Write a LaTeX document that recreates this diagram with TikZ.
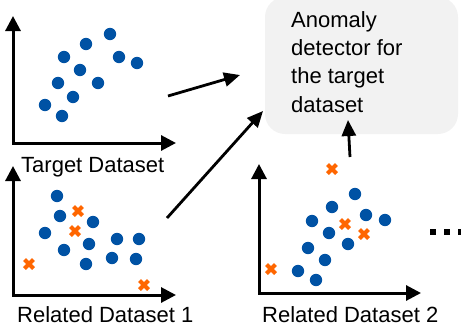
\documentclass[tikz,border=0pt]{standalone}
\usepackage{fontspec}
\setmainfont{Liberation Sans}
\usetikzlibrary{arrows.meta}
\definecolor{dotblue}{RGB}{0,82,164}
\definecolor{xorange}{RGB}{255,102,0}
\definecolor{boxgray}{RGB}{242,242,242}
\tikzset{
  axis/.style={line width=3pt, {Triangle[length=15pt,width=15pt]}-{Triangle[length=15pt,width=15pt]}},
  conn/.style={line width=2.8pt, -{Triangle[length=16pt,width=14pt]}},
  pt/.style={fill=dotblue},
  lbl/.style={font=\fontsize{22}{28}\selectfont, inner sep=0pt, anchor=base west},
}
\newcommand{\xmark}[2]{\draw[xorange, line width=4pt] (#1-4.5,#2-4.5) -- (#1+4.5,#2+4.5) (#1-4.5,#2+4.5) -- (#1+4.5,#2-4.5);}
\begin{document}
\begin{tikzpicture}[x=1pt,y=-1pt]
\useasboundingbox (0,0) rectangle (461,327);
% detector box
\node[fill=boxgray, rounded corners=20pt, minimum width=193pt, minimum height=137pt, inner sep=0pt] (det) at (361.5,65.5) {};
\node[font=\fontsize{22}{28.3}\selectfont, align=left, inner sep=0pt, anchor=north west] (dettext) at (291,11) {Anomaly\\detector for\\the target\\dataset};
% target plot
\coordinate (t0) at (13,143); \coordinate (ty) at (13,16); \coordinate (tx) at (176,143);
\draw[axis] (ty) -- (t0) -- (tx);
\foreach \x/\y in {110/34,86/44,64/57,119/57,137/63,80/70,58/83,98/83,73/97,45/105,62/116}
  \fill[pt] (\x,\y) circle (6.2pt);
\node[lbl] (tlab) at (21,172) {Target Dataset};
% related 1
\coordinate (a0) at (13,295); \coordinate (ay) at (13,166); \coordinate (ax) at (176,295);
\draw[axis] (ay) -- (a0) -- (ax);
\foreach \x/\y in {57/196,60/216,93/222,45/233,117/239,139/239,89/244,64/250,112/258,136/259,86/264}
  \fill[pt] (\x,\y) circle (6.2pt);
\xmark{78}{211}\xmark{75}{231}\xmark{29}{264}\xmark{144}{285}
\node[lbl] (alab) at (17,322.5) {Related Dataset 1};
% related 2
\coordinate (b0) at (259,293); \coordinate (by) at (259,164); \coordinate (bx) at (421,293);
\draw[axis] (by) -- (b0) -- (bx);
\foreach \x/\y in {355/194,332/207,366/215,385/220,312/221,329/233,348/244,308/248,325/260,298/271,316/280}
  \fill[pt] (\x,\y) circle (6.2pt);
\xmark{332}{169}\xmark{345}{224}\xmark{364}{234}\xmark{271}{269}
\node[lbl] (blab) at (262,322.5) {Related Dataset 2};
% ellipsis
\foreach \x in {433,447,461}
  \fill (\x-2.6,229.4) rectangle (\x+2.6,234.6);
% connectors
\coordinate (s1) at (168,96); \coordinate (e1) at (240,75);
\coordinate (s2) at (167,218); \coordinate (e2) at (263,111);
\coordinate (s3) at (350,157); \coordinate (e3) at (348,120);
\draw[conn] (s1) -- (e1);
\draw[conn] (s2) -- (e2);
\draw[conn] (s3) -- (e3);
\end{tikzpicture}
\end{document}
